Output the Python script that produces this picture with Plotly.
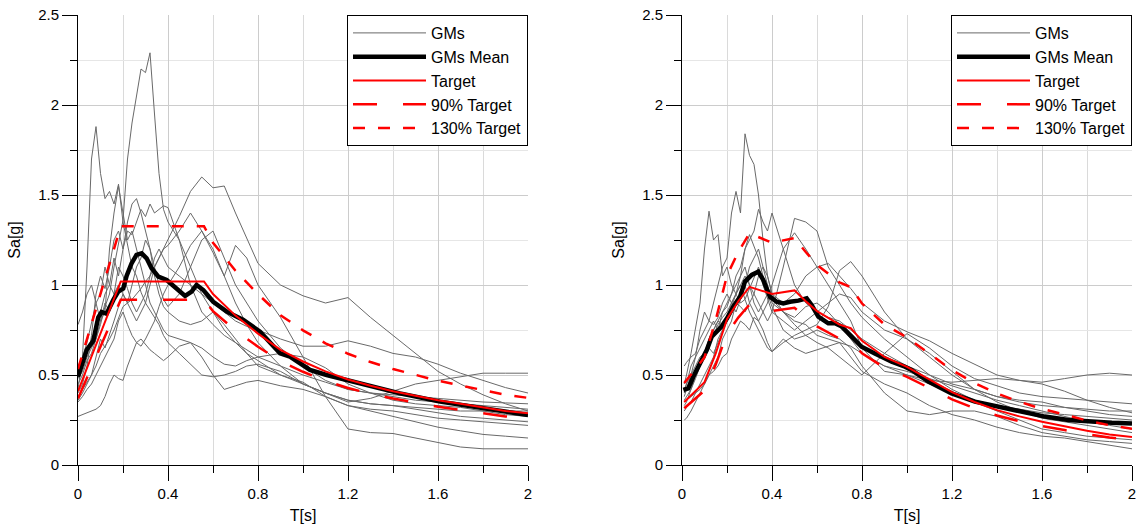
import plotly.graph_objects as go

# ---------------- periods (shared grids) ----------------
T_LEFT = [0.00, 0.02, 0.04, 0.06, 0.08, 0.10, 0.12, 0.14, 0.16, 0.18,
          0.20, 0.22, 0.24, 0.26, 0.28, 0.30, 0.32, 0.34, 0.36, 0.38,
          0.40, 0.45, 0.50, 0.55, 0.60, 0.65, 0.70, 0.75, 0.80, 0.90,
          1.0, 1.1, 1.2, 1.3, 1.4, 1.5, 1.6, 1.7, 1.8, 1.9, 2.0]
T_RIGHT = [0.01, 0.02, 0.04, 0.06, 0.08, 0.10, 0.12, 0.14, 0.16, 0.18,
           0.20, 0.22, 0.24, 0.26, 0.28, 0.30, 0.32, 0.34, 0.36, 0.38,
           0.40, 0.45, 0.50, 0.55, 0.60, 0.65, 0.70, 0.75, 0.80, 0.90,
           1.0, 1.1, 1.2, 1.3, 1.4, 1.5, 1.6, 1.7, 1.8, 1.9, 2.0]

# ---------------- left panel ground motions ----------------
GM_L1 = [0.45, 0.50, 0.58, 0.62, 0.70, 0.78, 0.88, 0.95, 1.10, 1.22,
         1.36, 1.70, 1.90, 2.05, 2.20, 2.18, 2.29, 1.95, 1.62, 1.42,
         1.35, 1.25, 1.00, 0.85, 0.78, 0.72, 0.68, 0.64, 0.60, 0.55,
         0.50, 0.46, 0.42, 0.40, 0.38, 0.36, 0.35, 0.34, 0.33, 0.32, 0.31]
GM_L2 = [0.42, 0.60, 1.10, 1.70, 1.88, 1.62, 1.48, 1.52, 1.45, 1.56,
         1.35, 1.22, 1.10, 1.05, 0.96, 0.90, 0.86, 0.82, 0.78, 0.72,
         0.68, 0.62, 0.56, 0.50, 0.49, 0.50, 0.52, 0.55, 0.56, 0.52,
         0.45, 0.40, 0.36, 0.34, 0.33, 0.32, 0.31, 0.30, 0.30, 0.30, 0.30]
GM_L3 = [0.38, 0.42, 0.46, 0.50, 0.55, 0.62, 0.66, 0.70, 0.75, 0.82,
         0.88, 0.90, 0.92, 0.95, 0.98, 1.02, 1.05, 1.10, 1.15, 1.20,
         1.25, 1.38, 1.52, 1.60, 1.54, 1.55, 1.40, 1.26, 1.12, 1.00,
         0.94, 0.90, 0.93, 0.82, 0.72, 0.62, 0.52, 0.45, 0.39, 0.34, 0.30]
GM_L4 = [0.48, 0.52, 0.60, 0.65, 0.70, 0.80, 0.90, 0.85, 0.95, 1.00,
         0.95, 0.90, 0.85, 0.80, 0.85, 0.90, 1.00, 1.10, 1.15, 1.20,
         1.22, 1.30, 1.40, 1.30, 1.18, 1.05, 0.90, 0.78, 0.68, 0.55,
         0.45, 0.40, 0.35, 0.37, 0.41, 0.45, 0.47, 0.49, 0.51, 0.51, 0.51]
GM_L5 = [0.35, 0.38, 0.42, 0.45, 0.50, 0.55, 0.60, 0.65, 0.70, 0.80,
         0.85, 0.78, 0.72, 0.68, 0.66, 0.70, 0.75, 0.80, 0.88, 0.95,
         1.00, 1.10, 1.22, 1.30, 1.20, 1.05, 1.22, 1.15, 1.00, 0.82,
         0.60, 0.38, 0.20, 0.18, 0.175, 0.15, 0.125, 0.10, 0.09, 0.09, 0.09]
GM_L6 = [0.40, 0.45, 0.55, 0.72, 0.95, 1.05, 0.98, 1.10, 1.25, 1.30,
         1.20, 1.35, 1.45, 1.48, 1.40, 1.30, 1.20, 1.05, 0.95, 0.88,
         0.85, 0.80, 0.78, 0.80, 0.85, 0.78, 0.70, 0.62, 0.55, 0.50,
         0.45, 0.40, 0.36, 0.34, 0.33, 0.31, 0.29, 0.27, 0.26, 0.25, 0.24]
GM_L7 = [0.50, 0.55, 0.62, 0.70, 0.75, 0.85, 0.95, 1.00, 1.15, 1.05,
         1.20, 1.30, 1.28, 1.35, 1.42, 1.38, 1.45, 1.40, 1.42, 1.44,
         1.43, 1.25, 1.10, 0.95, 0.85, 0.75, 0.68, 0.62, 0.58, 0.50,
         0.46, 0.38, 0.33, 0.31, 0.30, 0.28, 0.26, 0.25, 0.24, 0.23, 0.22]
GM_L8 = [0.27, 0.28, 0.29, 0.30, 0.31, 0.33, 0.38, 0.45, 0.50, 0.48,
         0.47, 0.55, 0.62, 0.68, 0.70, 0.67, 0.64, 0.62, 0.60, 0.58,
         0.60, 0.66, 0.68, 0.60, 0.50, 0.42, 0.44, 0.46, 0.47, 0.44,
         0.42, 0.38, 0.33, 0.30, 0.27, 0.24, 0.21, 0.19, 0.17, 0.16, 0.15]
GM_L9 = [0.55, 0.60, 0.68, 0.80, 0.90, 0.95, 1.10, 1.00, 0.95, 1.10,
         1.05, 0.98, 0.90, 0.85, 0.90, 0.95, 1.05, 1.15, 1.20, 1.15,
         1.10, 1.05, 1.00, 0.95, 0.90, 0.85, 0.80, 0.77, 0.75, 0.70,
         0.66, 0.66, 0.69, 0.66, 0.62, 0.60, 0.56, 0.51, 0.47, 0.43, 0.40]
GM_L10 = [0.78, 0.85, 0.95, 1.00, 0.90, 0.80, 0.85, 1.20, 1.40, 1.55,
          1.40, 1.25, 1.30, 1.20, 1.10, 1.00, 0.90, 0.85, 0.80, 0.75,
          0.72, 0.70, 0.68, 0.65, 0.60, 0.56, 0.55, 0.58, 0.60, 0.62,
          0.60, 0.54, 0.45, 0.40, 0.36, 0.34, 0.33, 0.32, 0.30, 0.28, 0.27]
GM_L11 = [0.36, 0.40, 0.45, 0.50, 0.60, 0.70, 0.65, 0.72, 0.80, 0.88,
          0.95, 0.90, 1.00, 1.10, 1.15, 1.25, 1.20, 1.10, 1.00, 0.92,
          0.88, 0.95, 1.10, 1.25, 1.30, 1.15, 1.00, 0.90, 0.80, 0.65,
          0.55, 0.47, 0.42, 0.40, 0.39, 0.38, 0.37, 0.36, 0.35, 0.345, 0.34]

MEAN_L_T = [0, 0.039, 0.068, 0.09, 0.105, 0.127, 0.157, 0.179, 0.201, 0.216,
            0.238, 0.26, 0.283, 0.305, 0.327, 0.357, 0.394, 0.439, 0.476, 0.505,
            0.527, 0.557, 0.601, 0.661, 0.735, 0.809, 0.898, 0.942, 0.987, 1.031,
            1.105, 1.194, 1.313, 1.431, 1.609, 1.801, 2.0]
MEAN_L_SA = [0.49, 0.64, 0.69, 0.82, 0.85, 0.84, 0.917, 0.963, 0.98, 1.05,
             1.12, 1.167, 1.176, 1.148, 1.093, 1.046, 1.028, 0.98, 0.939, 0.963,
             1.0, 0.972, 0.907, 0.852, 0.806, 0.741, 0.621, 0.602, 0.565, 0.528,
             0.5, 0.472, 0.435, 0.398, 0.352, 0.315, 0.278]

TGT_L_T = [0, 0.19, 0.56, 0.6, 0.7, 0.8, 0.9, 1.0, 1.1, 1.2, 1.3, 1.4, 1.5,
           1.6, 1.7, 1.8, 1.9, 2.0]
TGT_L_SA = [0.41, 1.02, 1.02, 0.95, 0.83, 0.73, 0.64, 0.575, 0.52, 0.475,
            0.44, 0.41, 0.385, 0.36, 0.34, 0.32, 0.30, 0.287]
TGT90_L_SA = [0.369, 0.918, 0.918, 0.855, 0.747, 0.657, 0.576, 0.518, 0.468,
              0.428, 0.396, 0.369, 0.347, 0.324, 0.306, 0.288, 0.27, 0.258]
TGT130_L_SA = [0.533, 1.326, 1.326, 1.235, 1.079, 0.949, 0.832, 0.748, 0.676,
               0.618, 0.572, 0.533, 0.501, 0.468, 0.442, 0.416, 0.39, 0.373]

# ---------------- right panel ground motions ----------------
GM_R1 = [0.45, 0.50, 0.62, 0.75, 0.90, 1.20, 1.41, 1.25, 1.28, 1.05,
         1.10, 1.00, 0.95, 0.90, 0.92, 0.98, 1.05, 1.10, 1.00, 0.92,
         0.85, 0.80, 0.75, 0.80, 0.85, 0.90, 0.95, 0.93, 0.85, 0.75,
         0.70, 0.60, 0.50, 0.42, 0.38, 0.35, 0.33, 0.32, 0.31, 0.30, 0.30]
GM_R2 = [0.38, 0.42, 0.50, 0.60, 0.75, 0.85, 0.80, 0.90, 1.00, 1.10,
         1.15, 1.40, 1.52, 1.40, 1.84, 1.72, 1.67, 1.50, 1.25, 1.05,
         0.95, 0.85, 0.80, 0.78, 0.72, 0.70, 0.68, 0.66, 0.62, 0.55,
         0.50, 0.45, 0.40, 0.35, 0.30, 0.25, 0.20, 0.18, 0.16, 0.15, 0.14]
GM_R3 = [0.33, 0.35, 0.42, 0.50, 0.55, 0.60, 0.68, 0.75, 0.80, 0.85,
         0.90, 0.95, 1.05, 1.10, 1.20, 1.25, 1.30, 1.42, 1.35, 1.30,
         1.40, 1.20, 1.00, 0.90, 0.85, 0.82, 0.80, 0.75, 0.70, 0.62,
         0.55, 0.50, 0.45, 0.42, 0.38, 0.36, 0.35, 0.32, 0.30, 0.28, 0.27]
GM_R4 = [0.30, 0.32, 0.35, 0.40, 0.45, 0.50, 0.55, 0.60, 0.70, 0.75,
         0.80, 0.85, 0.90, 0.88, 0.85, 0.90, 0.95, 0.90, 0.85, 0.80,
         0.85, 1.10, 1.37, 1.35, 1.30, 1.10, 1.00, 0.90, 0.82, 0.70,
         0.60, 0.50, 0.42, 0.36, 0.33, 0.31, 0.29, 0.28, 0.27, 0.26, 0.25]
GM_R5 = [0.40, 0.45, 0.50, 0.55, 0.60, 0.62, 0.70, 0.75, 0.80, 0.78,
         0.82, 0.90, 0.95, 1.00, 0.92, 0.85, 0.80, 0.75, 0.70, 0.65,
         0.63, 0.68, 0.72, 0.75, 0.78, 0.88, 1.08, 1.13, 1.05, 0.85,
         0.70, 0.62, 0.52, 0.42, 0.35, 0.30, 0.26, 0.24, 0.22, 0.20, 0.18]
GM_R6 = [0.25, 0.26, 0.30, 0.35, 0.40, 0.45, 0.50, 0.55, 0.60, 0.70,
         0.75, 0.80, 0.90, 0.95, 1.00, 0.90, 0.85, 0.80, 0.85, 0.90,
         1.00, 1.20, 1.29, 1.20, 1.10, 1.00, 0.90, 0.80, 0.65, 0.52,
         0.50, 0.47, 0.46, 0.47, 0.48, 0.47, 0.46, 0.48, 0.50, 0.51, 0.50]
GM_R7 = [0.55, 0.57, 0.60, 0.62, 0.70, 0.75, 0.80, 0.78, 0.82, 0.90,
         0.95, 0.90, 0.85, 0.92, 1.00, 1.10, 1.15, 1.20, 1.10, 1.05,
         0.95, 0.90, 0.95, 1.05, 1.10, 1.12, 1.05, 0.98, 0.90, 0.80,
         0.74, 0.69, 0.62, 0.56, 0.50, 0.47, 0.45, 0.41, 0.36, 0.32, 0.29]
GM_R8 = [0.35, 0.36, 0.38, 0.40, 0.42, 0.45, 0.50, 0.52, 0.55, 0.60,
         0.62, 0.70, 0.75, 0.80, 0.78, 0.75, 0.82, 0.80, 0.75, 0.68,
         0.63, 0.70, 0.65, 0.62, 0.64, 0.66, 0.68, 0.60, 0.52, 0.45,
         0.40, 0.33, 0.28, 0.25, 0.21, 0.18, 0.16, 0.15, 0.13, 0.11, 0.09]
GM_R9 = [0.42, 0.45, 0.55, 0.60, 0.65, 0.70, 0.75, 0.80, 0.75, 0.85,
         0.88, 0.95, 1.00, 1.05, 1.10, 1.00, 0.95, 1.05, 1.10, 1.00,
         0.90, 0.85, 0.78, 0.72, 0.68, 0.65, 0.60, 0.55, 0.50, 0.62,
         0.73, 0.65, 0.55, 0.48, 0.44, 0.40, 0.38, 0.37, 0.36, 0.35, 0.34]
GM_R10 = [0.36, 0.38, 0.42, 0.48, 0.55, 0.60, 0.65, 0.62, 0.68, 0.75,
          0.80, 0.88, 0.95, 1.00, 1.05, 1.00, 0.90, 0.85, 0.90, 0.95,
          0.88, 0.75, 0.70, 0.72, 0.75, 0.72, 0.70, 0.65, 0.55, 0.40,
          0.30, 0.28, 0.30, 0.30, 0.27, 0.22, 0.18, 0.16, 0.14, 0.13, 0.12]
GM_R11 = [0.40, 0.42, 0.45, 0.52, 0.58, 0.62, 0.68, 0.72, 0.78, 0.82,
          0.85, 0.90, 0.95, 1.05, 1.20, 1.28, 1.22, 1.15, 1.05, 0.98,
          0.92, 0.85, 0.82, 0.88, 0.90, 0.85, 0.78, 0.70, 0.62, 0.55,
          0.52, 0.48, 0.44, 0.40, 0.36, 0.33, 0.30, 0.27, 0.24, 0.22, 0.20]

MEAN_R_T = [0.006, 0.028, 0.05, 0.073, 0.087, 0.11, 0.132, 0.154, 0.176, 0.2,
            0.228, 0.258, 0.28, 0.31, 0.339, 0.361, 0.391, 0.421, 0.45, 0.48,
            0.517, 0.554, 0.576, 0.606, 0.65, 0.68, 0.71, 0.754, 0.798, 0.857,
            0.932, 0.991, 1.02, 1.095, 1.198, 1.302, 1.406, 1.51, 1.613, 1.717,
            1.806, 1.91, 2.0]
MEAN_R_SA = [0.417, 0.426, 0.49, 0.546, 0.574, 0.639, 0.713, 0.741, 0.769, 0.815,
             0.88, 0.935, 1.019, 1.056, 1.074, 1.028, 0.935, 0.907, 0.898, 0.907,
             0.913, 0.926, 0.889, 0.824, 0.787, 0.787, 0.769, 0.713, 0.657, 0.62,
             0.574, 0.546, 0.528, 0.463, 0.398, 0.352, 0.324, 0.296, 0.269, 0.25,
             0.241, 0.235, 0.231]

TGT_R_T = [0.01, 0.05, 0.1, 0.15, 0.2, 0.25, 0.3, 0.4, 0.5, 0.55, 0.6, 0.7,
           0.75, 0.8, 0.9, 1.0, 1.1, 1.2, 1.3, 1.4, 1.5, 1.6, 1.7, 1.8, 1.9, 2.0]
TGT_R_SA = [0.35, 0.40, 0.46, 0.62, 0.81, 0.91, 0.99, 0.95, 0.97, 0.91, 0.855,
            0.78, 0.76, 0.69, 0.60, 0.545, 0.475, 0.405, 0.35, 0.305, 0.27,
            0.24, 0.215, 0.19, 0.17, 0.155]
TGT90_R_SA = [0.315, 0.36, 0.414, 0.558, 0.729, 0.819, 0.891, 0.855, 0.873,
              0.819, 0.77, 0.702, 0.684, 0.621, 0.54, 0.49, 0.428, 0.365,
              0.315, 0.275, 0.243, 0.216, 0.194, 0.171, 0.153, 0.14]
TGT130_R_SA = [0.455, 0.52, 0.598, 0.806, 1.053, 1.183, 1.287, 1.235, 1.261,
               1.183, 1.112, 1.014, 0.988, 0.897, 0.78, 0.709, 0.618, 0.527,
               0.455, 0.397, 0.351, 0.312, 0.28, 0.247, 0.221, 0.202]

GMS_LEFT = [GM_L1, GM_L2, GM_L3, GM_L4, GM_L5, GM_L6, GM_L7, GM_L8, GM_L9, GM_L10, GM_L11]
GMS_RIGHT = [GM_R1, GM_R2, GM_R3, GM_R4, GM_R5, GM_R6, GM_R7, GM_R8, GM_R9, GM_R10, GM_R11]

# ---------------- styling ----------------
FONT = "Liberation Sans, Arial, sans-serif"
GRAY = "rgb(105,105,105)"
RED = "#ff0000"

fig = go.Figure()


def add_panel(xa, ya, leg, t_gm, gms, mt, msa, tt, tsa, t90, t130):
    for i, sa in enumerate(gms):
        fig.add_trace(go.Scatter(
            x=t_gm, y=sa, mode="lines", xaxis=xa, yaxis=ya, legend=leg,
            name="GMs", legendgroup="gms" + leg, showlegend=(i == 0),
            line=dict(color=GRAY, width=1), hoverinfo="skip"))
    fig.add_trace(go.Scatter(x=mt, y=msa, mode="lines", xaxis=xa, yaxis=ya,
                             legend=leg, name="GMs Mean",
                             line=dict(color="black", width=4.5)))
    fig.add_trace(go.Scatter(x=tt, y=tsa, mode="lines", xaxis=xa, yaxis=ya,
                             legend=leg, name="Target",
                             line=dict(color=RED, width=2)))
    fig.add_trace(go.Scatter(x=tt, y=t90, mode="lines", xaxis=xa, yaxis=ya,
                             legend=leg, name="90% Target",
                             line=dict(color=RED, width=2.5, dash="24px,26px")))
    fig.add_trace(go.Scatter(x=tt, y=t130, mode="lines", xaxis=xa, yaxis=ya,
                             legend=leg, name="130% Target",
                             line=dict(color=RED, width=2.5, dash="12px,13px")))


add_panel("x", "y", "legend", T_LEFT, GMS_LEFT, MEAN_L_T, MEAN_L_SA,
          TGT_L_T, TGT_L_SA, TGT90_L_SA, TGT130_L_SA)
add_panel("x2", "y2", "legend2", T_RIGHT, GMS_RIGHT, MEAN_R_T, MEAN_R_SA,
          TGT_R_T, TGT_R_SA, TGT90_R_SA, TGT130_R_SA)

# full-window figure; the page's default body margin is removed after plotting
W, H = 1139, 528
XL = [78 / W, 528 / W]
XR = [682 / W, 1132 / W]


def xaxis_def(domain, anchor):
    return dict(domain=domain, anchor=anchor, range=[0, 2], tick0=0, dtick=0.4,
                ticks="outside", ticklen=15, tickwidth=1, tickcolor="black",
                showline=True, linecolor="black", linewidth=1,
                showgrid=True, gridcolor="#cccccc", gridwidth=1, zeroline=False,
                minor=dict(dtick=0.2, ticks="outside", ticklen=7, tickcolor="black",
                           showgrid=True, gridcolor="#dadada"),
                tickfont=dict(family=FONT, size=15, color="black"),
                ticklabeloverflow="allow",
                title=dict(text="T[s]", font=dict(family=FONT, size=16, color="black"),
                           standoff=8),
                automargin=False, fixedrange=True)


def yaxis_def(anchor):
    return dict(domain=[0, 1], anchor=anchor, range=[0, 2.5], tick0=0, dtick=0.5,
                ticks="outside", ticklen=15, tickwidth=1, tickcolor="black",
                showline=True, linecolor="black", linewidth=1,
                showgrid=True, gridcolor="#cccccc", gridwidth=1, zeroline=False,
                minor=dict(dtick=0.25, ticks="outside", ticklen=7, tickcolor="black",
                           showgrid=True, gridcolor="#e6e6e6"),
                tickfont=dict(family=FONT, size=15, color="black"),
                ticklabeloverflow="allow",
                title=dict(text="Sa[g]", font=dict(family=FONT, size=16, color="black"),
                           standoff=13),
                automargin=False, fixedrange=True)


def legend_def(xr):
    return dict(x=xr, xanchor="right", y=1, yanchor="top",
                bgcolor="white", bordercolor="black", borderwidth=1,
                font=dict(family=FONT, size=16, color="black"),
                itemwidth=73, tracegroupgap=0)


fig.update_layout(
    width=W, height=H,
    margin=dict(l=0, r=0, t=15, b=63),
    paper_bgcolor="white", plot_bgcolor="white",
    xaxis=xaxis_def(XL, "y"), yaxis=yaxis_def("x"),
    xaxis2=xaxis_def(XR, "y2"), yaxis2=yaxis_def("x2"),
    legend=legend_def(XL[1]), legend2=legend_def(XR[1]),
    showlegend=True,
)

fig.write_html(
    "out.html",
    config={"displayModeBar": False, "staticPlot": True},
    post_script="document.body.style.margin='0';document.body.style.overflow='hidden';",
)
